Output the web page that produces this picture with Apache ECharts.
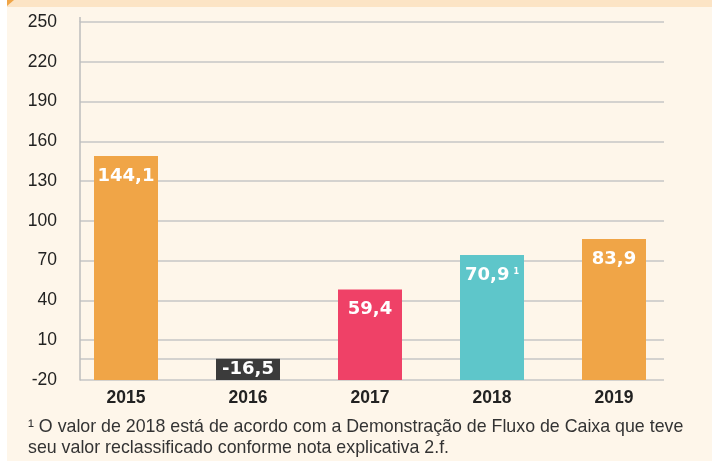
<!DOCTYPE html>
<html>
<head>
<meta charset="utf-8">
<script src="https://cdn.jsdelivr.net/npm/echarts@6/dist/echarts.min.js"></script>
<style>
  html, body { margin: 0; padding: 0; background: #fff; }
  #chart { width: 712px; height: 461px; }
</style>
</head>
<body>
<div id="chart"></div>
<script>
// bar heights as drawn in the picture; the printed labels differ from them
const years = ['2015', '2016', '2017', '2018', '2019'];
const barTops = [148.9, -4.0, 48.2, 74.3, 86.4];
const barLabels = ['144,1', '-16,5', '59,4', '70,9', '83,9'];
const labelMarks = ['', '', '', '1', ''];
const barColors = ['#f0a547', '#3b3b3b', '#ef4167', '#5ec6ca', '#f0a547'];
const yTicks = [-20, 10, 40, 70, 100, 130, 160, 190, 220, 250];
const extraLine = -4.3;
const noteLines = [
  '¹ O valor de 2018 está de acordo com a Demonstração de Fluxo de Caixa que teve',
  'seu valor reclassificado conforme nota explicativa 2.f.'
];

const axisMin = yTicks[0];
const axisMax = yTicks[yTicks.length - 1];
const step = yTicks[1] - yTicks[0];
const gridColor = '#c6c6c6';

const chart = echarts.init(document.getElementById('chart'));

const option = {
  backgroundColor: '#fef6ea',
  animation: false,
  graphic: [
    { type: 'rect', shape: { x: 0, y: 0, width: 7, height: 461 }, style: { fill: '#ffffff' } },
    { type: 'rect', shape: { x: 7, y: 0, width: 705, height: 7 }, style: { fill: '#fce4c5' } },
    { type: 'polygon', shape: { points: [[7, 0], [14, 0], [7, 6]] }, style: { fill: '#f0a547' } },
    { type: 'line', shape: { x1: 80, y1: 17, x2: 80, y2: 22 }, style: { stroke: '#bdbdbd', lineWidth: 1.5 } },
    {
      type: 'text', x: 28, y: 427,
      style: { text: noteLines[0], font: '17.8px "Liberation Sans"', fill: '#333', verticalAlign: 'middle' }
    },
    {
      type: 'text', x: 28, y: 448,
      style: { text: noteLines[1], font: '17.8px "Liberation Sans"', fill: '#333', verticalAlign: 'middle' }
    }
  ],
  grid: [
    { left: 80, right: 48, top: 22, bottom: 81 },
    { left: 65, right: 37, top: 22, bottom: 81 }
  ],
  xAxis: [
    { gridIndex: 0, type: 'category', data: years, show: false },
    {
      gridIndex: 1,
      type: 'category',
      data: years,
      axisLine: { show: false },
      axisTick: { show: false },
      axisLabel: {
        color: '#222',
        fontFamily: 'Liberation Sans',
        fontWeight: 'bold',
        fontSize: 17.5,
        margin: 9
      }
    }
  ],
  yAxis: [
    {
      gridIndex: 0,
      type: 'value',
      min: axisMin,
      max: axisMax,
      interval: step,
      axisLine: { show: true, lineStyle: { color: '#bdbdbd', width: 1.5 } },
      axisTick: { show: false },
      axisLabel: { color: '#222', fontFamily: 'Liberation Sans', fontSize: 17.5, margin: 23 },
      splitLine: { lineStyle: { color: gridColor, width: 1.5 } }
    },
    {
      gridIndex: 1,
      type: 'value',
      min: axisMin,
      max: axisMax,
      interval: step,
      startValue: axisMin,
      show: false
    }
  ],
  series: [
    {
      type: 'line',
      xAxisIndex: 0,
      yAxisIndex: 0,
      z: 0,
      data: years.map(() => null),
      markLine: {
        silent: true,
        z: 0,
        symbol: 'none',
        label: { show: false },
        lineStyle: { color: gridColor, width: 1.5, type: 'solid' },
        data: [{ yAxis: extraLine }]
      }
    },
    {
      type: 'bar',
      xAxisIndex: 1,
      yAxisIndex: 1,
      z: 3,
      barWidth: 64,
      data: barTops.map((v, i) => ({
        value: v,
        itemStyle: { color: barColors[i] },
        label: v < 0 ? { position: 'inside' } : {}
      })),
      label: {
        show: true,
        position: 'insideTop',
        distance: 11,
        color: '#fff',
        fontFamily: 'DejaVu Sans',
        fontWeight: 'bold',
        fontSize: 18,
        formatter: (p) => labelMarks[p.dataIndex]
          ? '{v|' + barLabels[p.dataIndex] + '}{s|' + labelMarks[p.dataIndex] + '}'
          : barLabels[p.dataIndex],
        rich: {
          v: { color: '#fff', fontFamily: 'DejaVu Sans', fontWeight: 'bold', fontSize: 18 },
          s: { color: '#fff', fontFamily: 'DejaVu Sans', fontWeight: 'bold', fontSize: 8, verticalAlign: 'top', padding: [2, 0, 0, 4] }
        }
      }
    }
  ]
};

chart.setOption(option);
</script>
</body>
</html>
